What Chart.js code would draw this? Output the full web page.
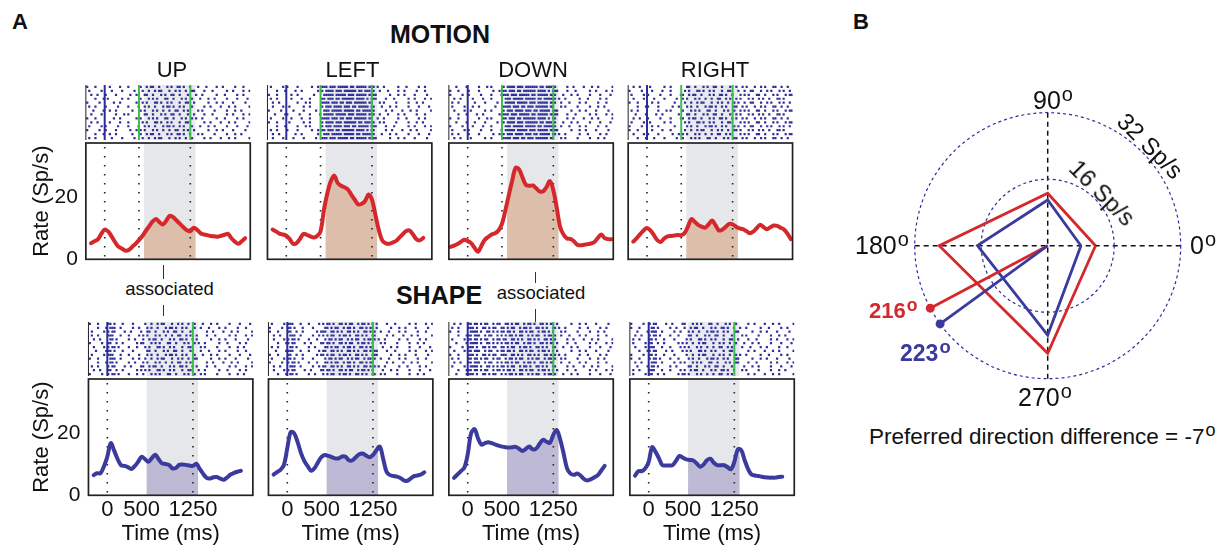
<!DOCTYPE html>
<html>
<head>
<meta charset="utf-8">
<title>Motion / Shape responses</title>
<script src="https://cdn.jsdelivr.net/npm/chart.js@4.4.1/dist/chart.umd.min.js"></script>
<style>
html,body{margin:0;padding:0;background:#fff;}
#fig{position:relative;width:1229px;height:550px;overflow:hidden;background:#fff;font-family:"Liberation Sans",Arial,Helvetica,sans-serif;color:#111;}
#fig canvas{position:absolute;}
.lb{position:absolute;white-space:nowrap;line-height:1;}
.dg{font-size:0.8em;position:relative;top:-0.42em;margin-left:1px;}
.vl{position:absolute;width:0;border-left:1.5px solid #333;}
</style>
</head>
<body>
<div id="fig"></div>
<script>
// ---------------- DATA ----------------
const TIME = [-250,-200,-150,-100,-50,0,50,100,150,200,250,300,350,400,450,500,550,600,650,700,750,800,850,900,950,1000,1050,1100,1150,1200,1250,1300,1350,1400,1450,1500,1550,1600,1650,1700,1750,1800,1850,1900,1950,2000,2050,2100];

const MOTION_UP    = [null,5.2,5.8,6.4,8.2,9.6,9.0,7.4,5.6,4.1,3.5,2.8,3.0,4.0,5.0,6.2,7.5,9.2,10.7,12.2,13.0,12.0,11.2,12.5,14.0,13.6,12.5,11.4,10.3,9.4,9.1,10.2,9.5,8.4,8.0,7.8,7.5,7.4,7.3,7.6,7.9,8.2,6.8,5.7,5.0,5.8,6.8,null];
const MOTION_LEFT  = [null,9.6,9.0,8.3,8.0,7.6,6.5,5.0,5.2,6.6,8.2,7.9,7.4,7.0,7.5,9.0,16.0,21.4,25.2,27.0,24.6,23.7,23.2,22.5,20.8,19.2,17.7,17.9,18.8,20.9,19.3,14.4,9.5,6.1,5.2,5.0,5.4,5.9,7.0,8.1,9.1,9.3,8.0,6.5,6.1,6.9,null,null];
const MOTION_DOWN  = [4.0,4.4,4.9,5.6,6.3,5.9,5.2,3.7,2.4,4.4,6.3,7.2,8.0,8.4,9.3,11.4,15.8,20.7,25.4,29.5,29.0,26.4,24.0,23.7,23.8,22.9,21.9,21.9,23.3,25.2,22.3,16.6,10.4,7.9,6.7,6.6,5.8,4.7,4.5,4.7,4.9,5.1,5.6,6.9,8.0,6.8,6.5,6.5];
const MOTION_RIGHT = [null,5.7,6.8,8.1,9.3,10.1,9.3,7.8,6.2,5.6,6.7,7.4,7.5,7.7,7.8,7.8,8.5,10.7,13.0,12.0,11.0,10.5,10.2,11.3,12.5,11.0,9.3,9.6,10.5,11.4,11.3,10.5,10.0,9.7,9.1,8.4,8.9,10.0,11.1,10.4,9.7,10.3,10.9,10.8,10.2,9.6,8.3,6.5];

const SHAPE_UP     = [null,6.5,7.1,7.1,9.3,12.4,16.8,14.4,11.7,9.7,9.5,9.1,8.5,9.4,10.8,12.4,11.7,10.8,12.0,13.1,11.6,10.3,10.1,9.8,8.7,8.8,9.8,9.9,9.8,9.6,9.5,10.2,8.5,6.9,5.6,5.4,5.8,5.9,5.4,5.0,5.8,6.7,7.2,7.6,7.9,null,null,null];
const SHAPE_LEFT   = [null,6.7,7.5,8.2,9.7,15.2,20.4,20.0,17.2,13.6,11.0,9.3,7.9,8.8,10.7,12.4,13.0,12.7,12.3,11.9,11.9,12.5,12.4,11.3,11.3,12.3,13.2,13.5,12.8,12.3,13.0,14.5,15.7,11.7,7.5,6.5,6.2,6.0,5.6,4.8,4.7,5.4,6.2,6.4,6.7,7.4,null,null];
const SHAPE_DOWN   = [null,5.6,6.7,7.8,8.9,13.2,20.0,21.3,18.4,16.3,16.8,17.1,16.8,16.4,16.0,15.7,15.5,15.4,15.5,15.6,15.0,14.3,15.0,15.7,14.8,15.1,16.6,17.9,17.3,16.9,19.5,21.0,18.0,13.5,8.7,7.0,6.6,7.0,6.3,5.2,4.8,5.2,5.8,6.5,8.0,9.5,null,null];
const SHAPE_RIGHT  = [null,6.3,7.8,7.8,8.7,10.8,15.5,14.0,11.9,9.7,9.6,9.6,9.7,11.2,12.7,12.1,11.6,11.4,11.2,10.3,9.2,9.9,11.3,11.8,10.5,9.7,9.7,9.7,9.1,8.4,10.8,14.8,14.6,11.4,8.5,6.7,6.4,6.2,6.0,5.8,5.7,5.7,5.7,5.9,6.0,null,null,null];

const DIRECTIONS = ['UP','LEFT','DOWN','RIGHT'];
const X_TICKS = [0, 500, 1250];
const Y_TICKS = [0, 20];
const ANALYSIS_WINDOW = [575, 1325];
const MOTION_MARKS = [0, 500, 1250];
const SHAPE_MARKS = [0, 1250];
const MOTION_GREEN = [500, 1250];
const SHAPE_GREEN = [1250];
const ONSET_BLUE = [0];

// raster: one string per trial, 'x' = spike in a 30 ms bin starting at -270 ms
const BIN_START = -270, BIN_MS = 30;
const RASTER_MOTION_UP = [
"x...x.... ..x....x...x..... x..x.xx..x...x.x..xx.x..x. ..x...x....x..x.....x...x...",
".x.....x. ...x....x.....x.. .x..x..x.xx...x..x.x..x..x x....x...x......x..x....x..x",
"..x..x... x....x......x..x. ..xx..x...x.x..xx..x...x.. .x..x......x...x.....x..x...",
"....x...x .x......x..x..... x...x.x.x...xx..x...x.x..x ...x...x..x.....x....x....x.",
"x.....x.. ....x..x.......x. .x.x...xx.x..x.x...x..xx.. x......x...x..x....x.....x..",
".x..x.... x.....x....x....x ..x.x..x...x.xx.x..x.x...x .....x..x....x...x..x......x",
"...x....x ..x..x.......x... x.x...x.x..x..x..xx..x.x.. ..x.x.....x.....x...x..x....",
"..x....x. .....x...x.x..... ..xx..x...x.x..xx..x...x.. x....x...x......x..x....x..x",
"x...x.... ....x..x.......x. x...x.x.x...xx..x...x.x..x .x..x......x...x.....x..x...",
"..x..x... ..x....x...x..... .x.x...xx.x..x.x...x..xx.. .....x..x....x...x..x......x",
".x.....x. x.....x....x....x ..x.x..x...x.xx.x..x.x...x ...x...x..x.....x....x....x.",
"x.....x.. x....x......x..x. x.x...x.x..x..x..xx..x.x.. x......x...x..x....x.....x..",
"....x...x ..x..x.......x... x..x.xx..x...x.x..xx.x..x. ..x.x.....x.....x...x..x....",
".x..x.... ...x....x.....x.. .x..x..x.xx...x..x.x..x..x .....x..x....x...x..x......x"];
const RASTER_MOTION_LEFT = [
".x.....x. x....x......x..x. xxx.xxx.xxxxx.xx.xxxxx.xxx .x..x......x...x.....x..x...",
"....x...x ....x..x.......x. x.xxxx.xxx.xxxxxx.xx.xxx.x ..x...x....x..x.....x...x...",
"x...x.... ..x..x.......x... .xxxxx.xxxxx.xxx.xxxxx.xxx x......x...x..x....x.....x..",
".x..x.... ..x....x...x..... xx.xxx.xx.xxxxxx.xxxx.x.xx x....x...x......x..x....x..x",
"..x..x... .....x...x.x..... xxxx.xxx.xx.xxx.xxxxxx.xx. ..x.x.....x.....x...x..x....",
"..x....x. .x......x..x..... x.xxx.xxxx.xxx.xx.xxxxx.xx ...x...x..x.....x....x....x.",
"x.....x.. ...x....x.....x.. .xxx.xxxxx.xxxxx.xx.xxxxxx .....x..x....x...x..x......x",
"...x....x x.....x....x....x .xxxxx.xxxxx.xxx.xxxxx.xxx ..x...x....x..x.....x...x...",
".x.....x. ..x....x...x..... xxxx.xxx.xx.xxx.xxxxxx.xx. .x..x......x...x.....x..x...",
"x...x.... .x......x..x..... x.xxxx.xxx.xxxxxx.xx.xxx.x ..x.x.....x.....x...x..x....",
"....x...x .....x...x.x..... x.xxx.xxxx.xxx.xx.xxxxx.xx x....x...x......x..x....x..x",
".x..x.... x....x......x..x. xx.xxx.xx.xxxxxx.xxxx.x.xx .....x..x....x...x..x......x",
"..x..x... ....x..x.......x. .xxx.xxxxx.xxxxx.xx.xxxxxx ...x...x..x.....x....x....x.",
"..x....x. ...x....x.....x.. xxx.xxx.xxxxx.xx.xxxxx.xxx x......x...x..x....x.....x.."];
const RASTER_MOTION_DOWN = [
"...x....x .....x...x.x..... x.xxxx.xxx.xxxxxx.xx.xxx.x .....x..x....x...x..x......x",
"x...x.... x....x......x..x. xx.xxx.xx.xxxxxx.xxxx.x.xx x....x...x......x..x....x..x",
"x.....x.. x.....x....x....x xxx.xxx.xxxxx.xx.xxxxx.xxx ...x...x..x.....x....x....x.",
"..x..x... ..x....x...x..... .xxx.xxxxx.xxxxx.xx.xxxxxx .x..x......x...x.....x..x...",
".x..x.... ...x....x.....x.. .xxxxx.xxxxx.xxx.xxxxx.xxx ..x...x....x..x.....x...x...",
".x.....x. ..x..x.......x... xxxx.xxx.xx.xxx.xxxxxx.xx. ..x.x.....x.....x...x..x....",
"..x....x. .x......x..x..... x.xxx.xxxx.xxx.xx.xxxxx.xx x......x...x..x....x.....x..",
"....x...x ....x..x.......x. xxx.xxx.xxxxx.xx.xxxxx.xxx x....x...x......x..x....x..x",
"x...x.... .....x...x.x..... xx.xxx.xx.xxxxxx.xxxx.x.xx .....x..x....x...x..x......x",
"...x....x ...x....x.....x.. x.xxxx.xxx.xxxxxx.xx.xxx.x ...x...x..x.....x....x....x.",
"x.....x.. ..x....x...x..... .xxx.xxxxx.xxxxx.xx.xxxxxx ..x...x....x..x.....x...x...",
".x.....x. x.....x....x....x .xxxxx.xxxxx.xxx.xxxxx.xxx x......x...x..x....x.....x..",
".x..x.... x....x......x..x. x.xxx.xxxx.xxx.xx.xxxxx.xx .x..x......x...x.....x..x...",
"..x..x... .x......x..x..... xxxx.xxx.xx.xxx.xxxxxx.xx. ..x.x.....x.....x...x..x...."];
const RASTER_MOTION_RIGHT = [
"..x..x... .x......x..x..... ..xx..x...x.x..xx..x...x.. x..x.x...x..x.x...xx..x..x..",
"x.....x.. ..x....x...x..... .x.x...xx.x..x.x...x..xx.. .x..x..xx...x..x.x...x.x..x.",
".x.....x. x.....x....x....x x..x.xx..x...x.x..xx.x..x. ..x.x.x...xx..x...x.x...x.xx",
"..x....x. ...x....x.....x.. x.x...x.x..x..x..xx..x.x.. x.x...x.x..x.x..x...xx.x....",
"x...x.... ..x..x.......x... .x..x..x.xx...x..x.x..x..x .x..x..xx...x..x.x...x.x..x.",
"....x...x x....x......x..x. ..x.x..x...x.xx.x..x.x...x x..x.x...x..x.x...xx..x..x..",
".x..x.... .....x...x.x..... x...x.x.x...xx..x...x.x..x ..x.x.x...xx..x...x.x...x.xx",
"...x....x ....x..x.......x. ..xx..x...x.x..xx..x...x.. x.x...x.x..x.x..x...xx.x....",
"..x..x... x.....x....x....x x..x.xx..x...x.x..xx.x..x. x..x.x...x..x.x...xx..x..x..",
".x.....x. .x......x..x..... .x.x...xx.x..x.x...x..xx.. ..x.x.x...xx..x...x.x...x.xx",
"x.....x.. ..x..x.......x... ..x.x..x...x.xx.x..x.x...x .x..x..xx...x..x.x...x.x..x.",
"x...x.... ..x....x...x..... .x..x..x.xx...x..x.x..x..x x.x...x.x..x.x..x...xx.x....",
"..x....x. x....x......x..x. x.x...x.x..x..x..xx..x.x.. ..x.x.x...xx..x...x.x...x.xx",
"....x...x ...x....x.....x.. x...x.x.x...xx..x...x.x..x x..x.x...x..x.x...xx..x..x.."];
const RASTER_SHAPE_UP = [
"x...x.... xx.x...x....x.... .x..x..x.xx...x..x.x..x..x ...x...x..x.....x....x....x.",
"....x...x .xxx..x.....x..x. ..x.x..x...x.xx.x..x.x...x ..x...x....x..x.....x...x...",
".x.....x. x.xx....x..x....x ..xx..x...x.x..xx..x...x.. .....x..x....x...x..x......x",
".x..x.... xxx...x...x....x. x.x...x.x..x..x..xx..x.x.. x....x...x......x..x....x..x",
"..x..x... .xx.x.....x..x... x..x.xx..x...x.x..xx.x..x. x......x...x..x....x.....x..",
"x.....x.. xx..x..x......x.x x...x.x.x...xx..x...x.x..x .x..x......x...x.....x..x...",
"..x....x. x.xx.x....x...x.. .x.x...xx.x..x.x...x..xx.. ..x.x.....x.....x...x..x....",
"...x....x xx.x...x....x.... ..xx..x...x.x..xx..x...x.. ..x...x....x..x.....x...x...",
".x.....x. xxx...x...x....x. ..x.x..x...x.xx.x..x.x...x ...x...x..x.....x....x....x.",
"x...x.... .xxx..x.....x..x. .x..x..x.xx...x..x.x..x..x x......x...x..x....x.....x..",
"....x...x .xx.x.....x..x... x.x...x.x..x..x..xx..x.x.. .....x..x....x...x..x......x",
".x..x.... x.xx....x..x....x x..x.xx..x...x.x..xx.x..x. x....x...x......x..x....x..x",
"..x..x... xx..x..x......x.x .x.x...xx.x..x.x...x..xx.. .x..x......x...x.....x..x...",
"x.....x.. x.xx.x....x...x.. x...x.x.x...xx..x...x.x..x ..x.x.....x.....x...x..x...."];
const RASTER_SHAPE_LEFT = [
".x.....x. xxx...x...x....x. x.xx.x..xx.x.xx..x.xx.x.x. x....x...x......x..x....x..x",
"x.....x.. xx.x...x....x.... .xx.x.xx..x.xx.x..xx.x.xx. x......x...x..x....x.....x..",
"x...x.... xx..x..x......x.x xx..xx.x.x..xx.x.x..xx.x.x ..x...x....x..x.....x...x...",
"..x..x... .xxx..x.....x..x. x.x.xx..x.xx.x..xx.x.x..xx .....x..x....x...x..x......x",
"..x....x. x.xx.x....x...x.. .x.xx.x.xx..x.x.xx..x.xx.x .x..x......x...x.....x..x...",
"....x...x x.xx....x..x....x x.xx.x..xx.x.xx..x.xx.x.x. ..x.x.....x.....x...x..x....",
".x..x.... .xx.x.....x..x... .xx.x.xx..x.xx.x..xx.x.xx. ...x...x..x.....x....x....x.",
"...x....x xxx...x...x....x. xx..xx.x.x..xx.x.x..xx.x.x x....x...x......x..x....x..x",
"x...x.... xx..x..x......x.x x.x.xx..x.xx.x..xx.x.x..xx x......x...x..x....x.....x..",
".x.....x. xx.x...x....x.... .x.xx.x.xx..x.x.xx..x.xx.x ..x...x....x..x.....x...x...",
"x.....x.. x.xx.x....x...x.. .xx.x.xx..x.xx.x..xx.x.xx. .....x..x....x...x..x......x",
"..x..x... .xxx..x.....x..x. xx..xx.x.x..xx.x.x..xx.x.x .x..x......x...x.....x..x...",
"..x....x. x.xx....x..x....x x.xx.x..xx.x.xx..x.xx.x.x. ...x...x..x.....x....x....x.",
"....x...x .xx.x.....x..x... x.x.xx..x.xx.x..xx.x.x..xx ..x.x.....x.....x...x..x...."];
const RASTER_SHAPE_DOWN = [
"..x..x... xx.xx.x.xx..x.xx. .xx.x.xx..x.xx.x..xx.x.xx. x......x...x..x....x.....x..",
".x..x.... xxx.x..xx.x.xx..x x.x.xx..x.xx.x..xx.x.x..xx .x..x......x...x.....x..x...",
"x...x.... .xxxx.x..xx.x.x.x x.xx.x..xx.x.xx..x.xx.x.x. ..x.x.....x.....x...x..x....",
"....x...x xx.xxx..x.xx..x.x .x.xx.x.xx..x.x.xx..x.xx.x ..x...x....x..x.....x...x...",
".x.....x. xx.xx.x.xx..x.xx. xx..xx.x.x..xx.x.x..xx.x.x .....x..x....x...x..x......x",
"...x....x .xxxx.x..xx.x.x.x .xx.x.xx..x.xx.x..xx.x.xx. x....x...x......x..x....x..x",
"x.....x.. xxx.x..xx.x.xx..x x.x.xx..x.xx.x..xx.x.x..xx ...x...x..x.....x....x....x.",
"..x....x. xx.xxx..x.xx..x.x x.xx.x..xx.x.xx..x.xx.x.x. x......x...x..x....x.....x..",
"x...x.... xxx.x..xx.x.xx..x xx..xx.x.x..xx.x.x..xx.x.x .x..x......x...x.....x..x...",
".x..x.... xx.xx.x.xx..x.xx. .x.xx.x.xx..x.x.xx..x.xx.x ..x.x.....x.....x...x..x....",
"..x..x... xx.xxx..x.xx..x.x .xx.x.xx..x.xx.x..xx.x.xx. ..x...x....x..x.....x...x...",
".x.....x. .xxxx.x..xx.x.x.x x.x.xx..x.xx.x..xx.x.x..xx .....x..x....x...x..x......x",
"....x...x xx.xx.x.xx..x.xx. x.xx.x..xx.x.xx..x.xx.x.x. x....x...x......x..x....x..x",
"...x....x xxx.x..xx.x.xx..x .x.xx.x.xx..x.x.xx..x.xx.x ...x...x..x.....x....x....x."];
const RASTER_SHAPE_RIGHT = [
"x.....x.. x.xx....x..x....x x...x.x.x...xx..x...x.x..x .....x..x....x...x..x......x",
"x...x.... .xx.x.....x..x... x..x.xx..x...x.x..xx.x..x. .x..x......x...x.....x..x...",
"...x....x .xxx..x.....x..x. ..x.x..x...x.xx.x..x.x...x x......x...x..x....x.....x..",
"..x..x... x.xx.x....x...x.. ..xx..x...x.x..xx..x...x.. ..x.x.....x.....x...x..x....",
".x..x.... xx.x...x....x.... .x.x...xx.x..x.x...x..xx.. x....x...x......x..x....x..x",
".x.....x. xx..x..x......x.x .x..x..x.xx...x..x.x..x..x ...x...x..x.....x....x....x.",
"..x....x. xxx...x...x....x. x.x...x.x..x..x..xx..x.x.. ..x...x....x..x.....x...x...",
"....x...x x.xx....x..x....x .x.x...xx.x..x.x...x..xx.. .....x..x....x...x..x......x",
"x.....x.. xx.x...x....x.... .x..x..x.xx...x..x.x..x..x .x..x......x...x.....x..x...",
"x...x.... x.xx.x....x...x.. ..x.x..x...x.xx.x..x.x...x x......x...x..x....x.....x..",
"..x..x... .xxx..x.....x..x. x...x.x.x...xx..x...x.x..x x....x...x......x..x....x..x",
"...x....x .xx.x.....x..x... ..xx..x...x.x..xx..x...x.. ...x...x..x.....x....x....x.",
".x..x.... xxx...x...x....x. x..x.xx..x...x.x..xx.x..x. ..x.x.....x.....x...x..x....",
".x.....x. xx..x..x......x.x x.x...x.x..x..x..xx..x.x.. .....x..x....x...x..x......x"];

// polar tuning curves (mean rate in analysis window, Sp/s)
const POLAR_DEG = [0, 90, 180, 270];
const POLAR_MOTION = [11.5, 12.6, 26.1, 25.9];
const POLAR_SHAPE = [8.0, 11.0, 16.9, 21.5];
const PREF_LABEL = [216, 223];        // printed preferred directions
const PREF_DRAWN_DEG = [208, 216];    // angle of the drawn vectors as they appear
const PREF_R = 32;
const RINGS = [16, 32];

// ---------------- STYLE / LAYOUT ----------------
Chart.defaults.font.family = '"Liberation Sans", Arial, Helvetica, sans-serif';
Chart.defaults.color = '#111';
const RED = '#d5282d', BLUE = '#3a3b9d', TAN = '#dcbeab', LAV = '#bebad6', SHADE = '#e6e7eb';
const DOTC = '#2f2f9c', GREEN = '#3dbb4b', EVBLUE = '#2c2c98';
const XMIN = -275, XMAX = 2125, PXMS = 0.0685;
const X0 = [[104.7, 286.3, 467.7, 647.0], [107.3, 287.3, 467.7, 648.7]];
const ROWY = [{r: 85, t: 143, b: 259.3}, {r: 322, t: 379, b: 495.3}];
const YMAX = 37.5;
const fig = document.getElementById('fig');

function addCanvas(l, t, w, h) {
  const c = document.createElement('canvas');
  c.width = w; c.height = h;
  c.style.left = l + 'px'; c.style.top = t + 'px';
  c.style.width = w + 'px'; c.style.height = h + 'px';
  fig.appendChild(c);
  return c;
}
function label(html, x, y, o = {}) {
  const d = document.createElement('div');
  d.className = 'lb'; d.innerHTML = html;
  d.style.left = x + 'px'; d.style.top = y + 'px';
  d.style.fontSize = (o.size || 22) + 'px';
  if (o.bold) d.style.fontWeight = 'bold';
  if (o.color) d.style.color = o.color;
  const ax = o.anchor === 'left' ? '0' : '-50%';
  d.style.transform = 'translate(' + ax + ',-50%)' + (o.rot ? ' rotate(' + o.rot + 'deg)' : '');
  fig.appendChild(d);
}
function vline(x, y1, y2) {
  const d = document.createElement('div');
  d.className = 'vl';
  d.style.left = x + 'px'; d.style.top = y1 + 'px'; d.style.height = (y2 - y1) + 'px';
  fig.appendChild(d);
}

function rasterChart(row, col, rows) {
  const x0 = X0[row][col], L = x0 + XMIN * PXMS, R = x0 + XMAX * PXMS;
  const T = ROWY[row].r, B = ROWY[row].t;
  const cl = Math.floor(L - 4), ct = Math.floor(T - 4), cr = Math.ceil(R + 4), cb = Math.ceil(B + 1);
  const cv = addCanvas(cl, ct, cr - cl, cb - ct);
  const pts = [];
  rows.forEach((s, ri) => {
    const str = s.replace(/ /g, '');
    for (let i = 0; i < str.length; i++) {
      if (str[i] === 'x') {
        const t = BIN_START + BIN_MS * i + BIN_MS / 2;
        if (t < XMAX) pts.push({x: t, y: rows.length - ri});
      }
    }
  });
  const greens = row ? SHAPE_GREEN : MOTION_GREEN;
  const deco = {
    id: 'rasterDeco',
    beforeDatasetsDraw(chart) {
      const {ctx, chartArea: a, scales: {x}} = chart;
      const x1 = x.getPixelForValue(ANALYSIS_WINDOW[0]), x2 = x.getPixelForValue(ANALYSIS_WINDOW[1]);
      ctx.save(); ctx.fillStyle = '#e9eaee';
      ctx.fillRect(x1, a.top, x2 - x1, a.bottom - a.top); ctx.restore();
    },
    afterDatasetsDraw(chart) {
      const {ctx, chartArea: a, scales: {x}} = chart;
      ctx.save();
      const vl = (v, c, w) => { const px = x.getPixelForValue(v); ctx.strokeStyle = c; ctx.lineWidth = w; ctx.beginPath(); ctx.moveTo(px, a.top); ctx.lineTo(px, a.bottom); ctx.stroke(); };
      ONSET_BLUE.forEach(v => vl(v, EVBLUE, 2));
      greens.forEach(v => vl(v, GREEN, 2));
      ctx.strokeStyle = '#222'; ctx.lineWidth = 1;
      ctx.beginPath(); ctx.moveTo(a.left, a.top); ctx.lineTo(a.left, a.bottom); ctx.stroke();
      ctx.restore();
    }
  };
  new Chart(cv, {
    type: 'scatter',
    data: {datasets: [{data: pts, pointStyle: 'rect', pointRadius: 1.55, backgroundColor: DOTC, borderWidth: 0}]},
    options: {
      responsive: false, animation: false, events: [],
      layout: {padding: {left: L - cl, top: T - ct, right: cr - R, bottom: cb - B}},
      plugins: {legend: {display: false}, tooltip: {enabled: false}},
      scales: {
        x: {type: 'linear', min: XMIN, max: XMAX, display: false},
        y: {type: 'linear', min: 0.5, max: rows.length + 0.5, display: false}
      }
    },
    plugins: [deco]
  });
}

function psthChart(row, col, vals) {
  const x0 = X0[row][col], L = x0 + XMIN * PXMS, R = x0 + XMAX * PXMS;
  const T = ROWY[row].t, B = ROWY[row].b;
  const isLeft = col === 0, isBottom = row === 1;
  const YW = row ? 60 : 57;
  const cl = Math.floor(L - (isLeft ? YW : 4)), ct = Math.floor(T - 13), cr = Math.ceil(R + 4);
  const cb = isBottom ? 550 : Math.ceil(B + 15);
  const cv = addCanvas(cl, ct, cr - cl, cb - ct);
  const XH = isBottom ? cb - B : 0;
  const color = row ? BLUE : RED, fillc = row ? LAV : TAN;
  const marks = row ? SHAPE_MARKS : MOTION_MARKS;
  const pts = TIME.map((t, i) => ({x: t, y: vals[i]}));
  const deco = {
    id: 'psthDeco',
    beforeDatasetsDraw(chart) {
      const {ctx, chartArea: a, scales: {x}} = chart;
      const x1 = x.getPixelForValue(ANALYSIS_WINDOW[0]), x2 = x.getPixelForValue(ANALYSIS_WINDOW[1]);
      ctx.save(); ctx.fillStyle = SHADE;
      ctx.fillRect(x1, a.top, x2 - x1, a.bottom - a.top); ctx.restore();
      ctx.save(); ctx.beginPath(); ctx.rect(x1, a.top, x2 - x1, a.bottom - a.top); ctx.clip();
    },
    afterDatasetDraw(chart, args) {
      if (args.index !== 1) return;
      const {ctx, chartArea: a, scales: {x}} = chart;
      ctx.restore();
      ctx.save();
      ctx.strokeStyle = '#222'; ctx.lineWidth = 1.6; ctx.setLineDash([1.6, 7.4]);
      marks.forEach(v => { const px = x.getPixelForValue(v); ctx.beginPath(); ctx.moveTo(px, a.top + 4); ctx.lineTo(px, a.bottom); ctx.stroke(); });
      ctx.restore();
    },
    afterDraw(chart) {
      const {ctx, chartArea: a} = chart;
      ctx.save(); ctx.strokeStyle = '#222'; ctx.lineWidth = 1.7;
      ctx.strokeRect(a.left, a.top, a.right - a.left, a.bottom - a.top); ctx.restore();
    }
  };
  new Chart(cv, {
    type: 'line',
    data: {datasets: [
      {data: pts, borderColor: color, borderWidth: 4, pointRadius: 0, tension: 0.35, fill: false, order: 1, borderCapStyle: 'round', borderJoinStyle: 'round'},
      {data: pts, borderColor: 'transparent', borderWidth: 0, backgroundColor: fillc, pointRadius: 0, tension: 0.35, fill: 'origin', order: 2}
    ]},
    options: {
      responsive: false, animation: false, events: [],
      layout: {padding: {left: L - cl - (isLeft ? YW : 0), top: T - ct, right: cr - R, bottom: isBottom ? 0 : cb - B}},
      plugins: {legend: {display: false}, tooltip: {enabled: false}},
      scales: {
        x: {
          type: 'linear', min: XMIN, max: XMAX, display: isBottom,
          grid: {display: false, drawTicks: false}, border: {display: false},
          afterBuildTicks: s => { s.ticks = X_TICKS.map(v => ({value: v})); },
          afterFit: s => { if (isBottom) { s.height = XH; s.paddingLeft = 0; s.paddingRight = 0; } },
          ticks: {autoSkip: false, maxRotation: 0, minRotation: 0, padding: 1, font: {size: 22}, color: '#111', callback: v => String(v)},
          title: {display: true, text: 'Time (ms)', font: {size: 22}, color: '#111', padding: {top: 0, bottom: 3}}
        },
        y: {
          type: 'linear', min: 0, max: YMAX, display: isLeft,
          grid: {display: false, drawTicks: false}, border: {display: false},
          afterBuildTicks: s => { s.ticks = Y_TICKS.map(v => ({value: v})); },
          afterFit: s => { if (isLeft) { s.width = YW; s.paddingTop = 0; s.paddingBottom = 0; } },
          ticks: {padding: 8, font: {size: 21}, color: '#111', callback: v => String(v)},
          title: {display: true, text: 'Rate (Sp/s)', font: {size: 22}, color: '#111', padding: {top: 0, bottom: 0}}
        }
      }
    },
    plugins: [deco]
  });
}

const MOTION = [MOTION_UP, MOTION_LEFT, MOTION_DOWN, MOTION_RIGHT];
const SHAPE = [SHAPE_UP, SHAPE_LEFT, SHAPE_DOWN, SHAPE_RIGHT];
const RM = [RASTER_MOTION_UP, RASTER_MOTION_LEFT, RASTER_MOTION_DOWN, RASTER_MOTION_RIGHT];
const RS = [RASTER_SHAPE_UP, RASTER_SHAPE_LEFT, RASTER_SHAPE_DOWN, RASTER_SHAPE_RIGHT];
for (let c = 0; c < 4; c++) { rasterChart(0, c, RM[c]); rasterChart(1, c, RS[c]); }
for (let c = 0; c < 4; c++) { psthChart(0, c, MOTION[c]); psthChart(1, c, SHAPE[c]); }

// ---------------- POLAR PLOT (B) ----------------
(function () {
  const cx = 1047.7, cy = 245.7, rad = 133;
  const cl = Math.floor(cx - rad - 10), ct = Math.floor(cy - rad - 10);
  const size = 2 * rad + 20;
  const cv = addCanvas(cl, ct, size, size);
  const toXY = (r, deg) => ({x: r * Math.cos(deg * Math.PI / 180), y: r * Math.sin(deg * Math.PI / 180)});
  const poly = vals => POLAR_DEG.concat([POLAR_DEG[0]]).map((d, i) => toXY(vals[i % vals.length], d));
  const grid = {
    id: 'polarGrid',
    beforeDatasetsDraw(chart) {
      const {ctx, scales: {x, y}} = chart;
      const ox = x.getPixelForValue(0), oy = y.getPixelForValue(0);
      const rmax = RINGS[RINGS.length - 1];
      ctx.save();
      ctx.strokeStyle = '#111'; ctx.lineWidth = 1.5; ctx.setLineDash([5, 4]);
      ctx.beginPath();
      ctx.moveTo(x.getPixelForValue(-rmax), oy); ctx.lineTo(x.getPixelForValue(rmax), oy);
      ctx.moveTo(ox, y.getPixelForValue(rmax)); ctx.lineTo(ox, y.getPixelForValue(-rmax));
      ctx.stroke();
      ctx.strokeStyle = '#2d2d9a'; ctx.lineWidth = 1.2; ctx.setLineDash([3, 3]);
      RINGS.forEach(r => { ctx.beginPath(); ctx.arc(ox, oy, x.getPixelForValue(r) - ox, 0, 2 * Math.PI); ctx.stroke(); });
      ctx.restore();
    }
  };
  const vec = (deg, col) => ({data: [{x: 0, y: 0}, toXY(PREF_R, deg)], showLine: true, borderColor: col, borderWidth: 2.8,
    pointRadius: [0, 4.5], pointBackgroundColor: col, pointBorderWidth: 0, tension: 0});
  new Chart(cv, {
    type: 'scatter',
    data: {datasets: [
      vec(PREF_DRAWN_DEG[1], BLUE),
      vec(PREF_DRAWN_DEG[0], RED),
      {data: poly(POLAR_SHAPE), showLine: true, borderColor: BLUE, borderWidth: 2.8, pointRadius: 0, tension: 0},
      {data: poly(POLAR_MOTION), showLine: true, borderColor: RED, borderWidth: 2.8, pointRadius: 0, tension: 0}
    ]},
    options: {
      responsive: false, animation: false, events: [],
      layout: {padding: {left: cx - rad - cl, top: cy - rad - ct, right: cl + size - (cx + rad), bottom: ct + size - (cy + rad)}},
      plugins: {legend: {display: false}, tooltip: {enabled: false}},
      scales: {x: {min: -32, max: 32, display: false}, y: {min: -32, max: 32, display: false}}
    },
    plugins: [grid]
  });
})();

// ---------------- TEXT ----------------
const DEG = '<span class="dg">o</span>';
label('A', 20, 22, {bold: true, size: 22});
label('B', 861, 22, {bold: true, size: 22});
label('MOTION', 440, 34, {bold: true, size: 25});
const TITLE_X = [172, 352.5, 533, 715];
DIRECTIONS.forEach((d, i) => label(d, TITLE_X[i], 70, {size: 22}));
label('SHAPE', 439, 294.5, {bold: true, size: 25});
label('associated', 169.5, 289, {size: 18.5});
label('associated', 541, 293, {size: 18.5});
vline(163, 265, 279); vline(163, 305, 316);
vline(535, 272, 283); vline(535, 309, 322);

label('90' + DEG, 1033, 100, {size: 25, anchor: 'left'});
label('180' + DEG, 855, 245, {size: 25, anchor: 'left'});
label('0' + DEG, 1190, 245, {size: 25, anchor: 'left'});
label('270' + DEG, 1018, 397, {size: 25, anchor: 'left'});
label(RINGS[1] + ' Sp/s', 1150, 146, {size: 24, rot: 45});
label(RINGS[0] + ' Sp/s', 1102, 193, {size: 24, rot: 45});
label(PREF_LABEL[0] + DEG, 869, 311, {size: 22, bold: true, color: RED, anchor: 'left'});
label(PREF_LABEL[1] + DEG, 900, 353, {size: 23, bold: true, color: BLUE, anchor: 'left'});
label('Preferred direction difference = ' + (PREF_LABEL[0] - PREF_LABEL[1]) + DEG, 869, 437, {size: 22.5, anchor: 'left'});
</script>
</body>
</html>
